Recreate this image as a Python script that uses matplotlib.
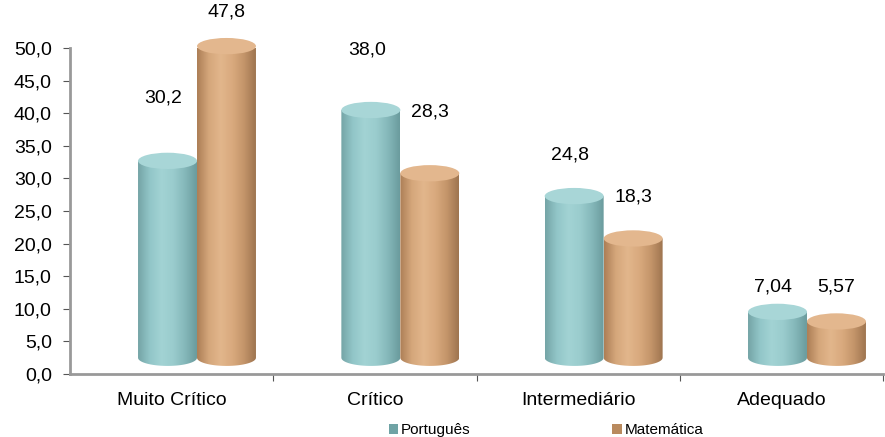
import numpy as np
import matplotlib.pyplot as plt
from matplotlib.path import Path
from matplotlib.patches import PathPatch, Ellipse, Patch
from matplotlib.colors import LinearSegmentedColormap

plt.rcParams['font.family'] = ['Liberation Sans', 'DejaVu Sans']

categorias = ['Muito Crítico', 'Crítico', 'Intermediário', 'Adequado']
portugues = [30.2, 38.0, 24.8, 7.04]
matematica = [47.8, 28.3, 18.3, 5.57]
rotulos_port = ['30,2', '38,0', '24,8', '7,04']
rotulos_mat = ['47,8', '28,3', '18,3', '5,57']
series = ['Português', 'Matemática']

# deslocamento dos rótulos acima das barras (unidades do eixo)
desl_port = [12.1, 11.7, 8.8, 6.3]
desl_mat = [7.7, 11.9, 8.8, 7.8]

cmap_port = LinearSegmentedColormap.from_list(
    'port', ['#75a5a7', '#92c6c8', '#a2d3d4', '#9acccd', '#85b8ba', '#6b9c9e'])
cmap_mat = LinearSegmentedColormap.from_list(
    'mat', ['#ad7f57', '#d5a77b', '#e2b68c', '#d9aa7e', '#c4956a', '#9f7550'])
topo_port = '#a8d6d7'
topo_mat = '#e3b78e'

base = 2.5      # deslocamento 3D da base
elh = 2.5       # altura da elipse
larg = 0.29


def cilindro(ax, xc, v, cmap, cor_topo):
    x0, x1 = xc - larg / 2, xc + larg / 2
    topo = base + v
    t = np.linspace(0, np.pi, 40)
    verts = [(x0, topo), (x0, base)]
    verts += list(zip(xc - larg / 2 * np.cos(t), base - elh / 2 * np.sin(t)))
    verts += [(x1, topo), (x0, topo)]
    codes = [Path.MOVETO] + [Path.LINETO] * (len(verts) - 2) + [Path.CLOSEPOLY]
    patch = PathPatch(Path(verts, codes), facecolor='none', edgecolor='none', clip_on=False)
    ax.add_patch(patch)
    grad = np.linspace(0, 1, 100).reshape(1, -1)
    im = ax.imshow(grad, cmap=cmap, aspect='auto', extent=(x0, x1, base - elh / 2, topo),
                   zorder=2, interpolation='bicubic')
    im.set_clip_path(patch)
    im.set_clip_box(None)
    el = Ellipse((xc, topo), larg, elh, facecolor=cor_topo, edgecolor='none', zorder=3,
                 clip_on=False)
    ax.add_patch(el)


fig = plt.figure(figsize=(8.85, 4.37), dpi=100)
ax = fig.add_axes([0.079, 0.144, 0.919, 0.746])

for i in range(len(categorias)):
    cilindro(ax, i + 0.48, portugues[i], cmap_port, topo_port)
    cilindro(ax, i + 0.77, matematica[i], cmap_mat, topo_mat)
    ax.text(i + 0.46, portugues[i] + desl_port[i], rotulos_port[i], ha='center',
            va='center', fontsize=14, clip_on=False)
    ax.text(i + 0.77, matematica[i] + desl_mat[i], rotulos_mat[i], ha='center',
            va='center', fontsize=14, clip_on=False)

ax.set_xlim(0, 4)
ax.set_ylim(0, 50)
ax.set_yticks(np.arange(0, 51, 5))
ax.set_yticklabels([f'{v:.1f}'.replace('.', ',') for v in np.arange(0, 51, 5)], fontsize=14)
ax.set_xticks([1, 2, 3, 4])
ax.set_xticklabels([])
ax.set_xticks(np.arange(len(categorias)) + 0.5, minor=True)
ax.set_xticklabels(categorias, minor=True, fontsize=14)
ax.tick_params(axis='x', which='minor', length=0, pad=13)
ax.tick_params(axis='x', which='major', length=5, color='#555555')
ax.tick_params(axis='y', length=5, color='#555555', pad=8)
for s in ['top', 'right']:
    ax.spines[s].set_visible(False)
for s in ['left', 'bottom']:
    ax.spines[s].set_color('#999999')
    ax.spines[s].set_linewidth(2)

handles = [Patch(facecolor='#6fa3a5', label=series[0]),
           Patch(facecolor='#b98a5e', label=series[1])]
fig.legend(handles=handles, loc='lower center', bbox_to_anchor=(0.617, -0.032), ncol=2,
           frameon=False, fontsize=11, handlelength=0.6, handleheight=0.6,
           handletextpad=0.2, columnspacing=9.3)

fig.savefig('out.png')
